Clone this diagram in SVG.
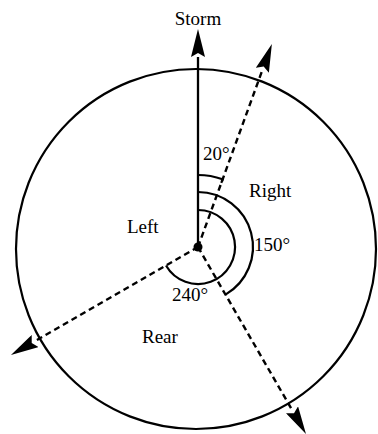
<svg xmlns="http://www.w3.org/2000/svg" width="378" height="434" viewBox="0 0 378 434">
  <style>
    .lbl { font-family: "Liberation Serif", "Times New Roman", serif; font-size: 19px; fill: #000; }
    .ring { fill: none; stroke: #000; stroke-width: 2.2; }
    .arc { fill: none; stroke: #000; stroke-width: 2.2; }
    .dash { stroke: #000; stroke-width: 2.4; stroke-dasharray: 6 4; fill: none; }
    .solid { stroke: #000; stroke-width: 2.3; fill: none; }
  </style>
  <defs>
    <marker id="ah" viewBox="0 0 28 14" refX="0" refY="7" markerWidth="28" markerHeight="14" markerUnits="userSpaceOnUse" orient="auto">
      <path d="M0,0 L28,7 L0,14 L4,7 z" fill="#000"/>
    </marker>
  </defs>
  <rect width="378" height="434" fill="#fff"/>
  <g id="circle">
    <circle class="ring" cx="196" cy="249" r="180"/>
  </g>
  <g id="connectors">
    <line id="storm-line" class="solid" x1="198" y1="247" x2="198" y2="57" marker-end="url(#ah)"/>
    <line id="right-line" class="dash" x1="198" y1="247" x2="262.3" y2="70.3" marker-end="url(#ah)"/>
    <line id="rear-right-line" class="dash" x1="198" y1="247" x2="292" y2="409.8" marker-end="url(#ah)"/>
    <line id="left-line" class="dash" x1="198" y1="247" x2="35.2" y2="341" marker-end="url(#ah)"/>
  </g>
  <g id="arcs">
    <path id="arc20" class="arc" d="M198,175 A72,72 0 0 1 222.6,179.3 L221.3,182.9"/>
    <path id="arc150" class="arc" d="M198,192 A55,55 0 0 1 225.5,294.6"/>
    <path id="arc240" class="arc" d="M198,210 A37,37 0 1 1 166,265.5"/>
  </g>
  <g id="center">
    <circle cx="198" cy="247" r="4.5" fill="#000"/>
  </g>
  <g id="labels">
    <text class="lbl" x="198" y="25" text-anchor="middle">Storm</text>
    <text class="lbl" x="203" y="160">20°</text>
    <text class="lbl" x="249" y="197">Right</text>
    <text class="lbl" x="127" y="233">Left</text>
    <text class="lbl" x="254" y="251">150°</text>
    <text class="lbl" x="172" y="301">240°</text>
    <text class="lbl" x="142" y="343">Rear</text>
  </g>
</svg>
